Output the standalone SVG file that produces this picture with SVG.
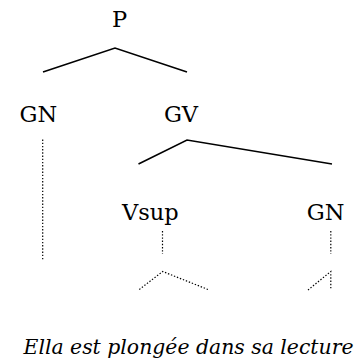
<svg xmlns="http://www.w3.org/2000/svg" width="362" height="360" viewBox="0 0 362 360">
<style>
text{font-family:'DejaVu Serif',serif;font-size:22.5px;fill:#000}
text.it{font-style:italic;font-size:20.4px}
.s{fill:none;stroke:#000;stroke-width:1.6}
.d{fill:none;stroke:#000;stroke-width:1.2;stroke-dasharray:1.4 1.8}
</style>
<rect width="362" height="360" fill="#fff"/>
<g id="connectors">
<polyline class="s" points="43,72 115,48 187,72"/>
<polyline class="s" points="138.5,164 187,140 332,164"/>
<line class="d" x1="42.7" y1="139.5" x2="42.7" y2="260"/>
<line class="d" x1="162.5" y1="231" x2="162.5" y2="254"/>
<line class="d" x1="330.8" y1="231" x2="330.8" y2="254"/>
<polyline class="d" points="139.3,289.5 162.7,271.5 209.3,290"/>
<polyline class="d" points="308,290 330.8,271.5 330.8,289"/>
</g>
<g id="P"><text x="119.5" y="27" text-anchor="middle">P</text></g>
<g id="GN1"><text x="38.3" y="122" text-anchor="middle">GN</text></g>
<g id="GV"><text x="181" y="122" text-anchor="middle">GV</text></g>
<g id="Vsup"><text x="150.3" y="220" text-anchor="middle">Vsup</text></g>
<g id="GN2"><text x="325.7" y="220" text-anchor="middle">GN</text></g>
<g id="sentence"><text class="it" x="188.5" y="354" text-anchor="middle">Ella est plongée dans sa lecture</text></g>
</svg>
